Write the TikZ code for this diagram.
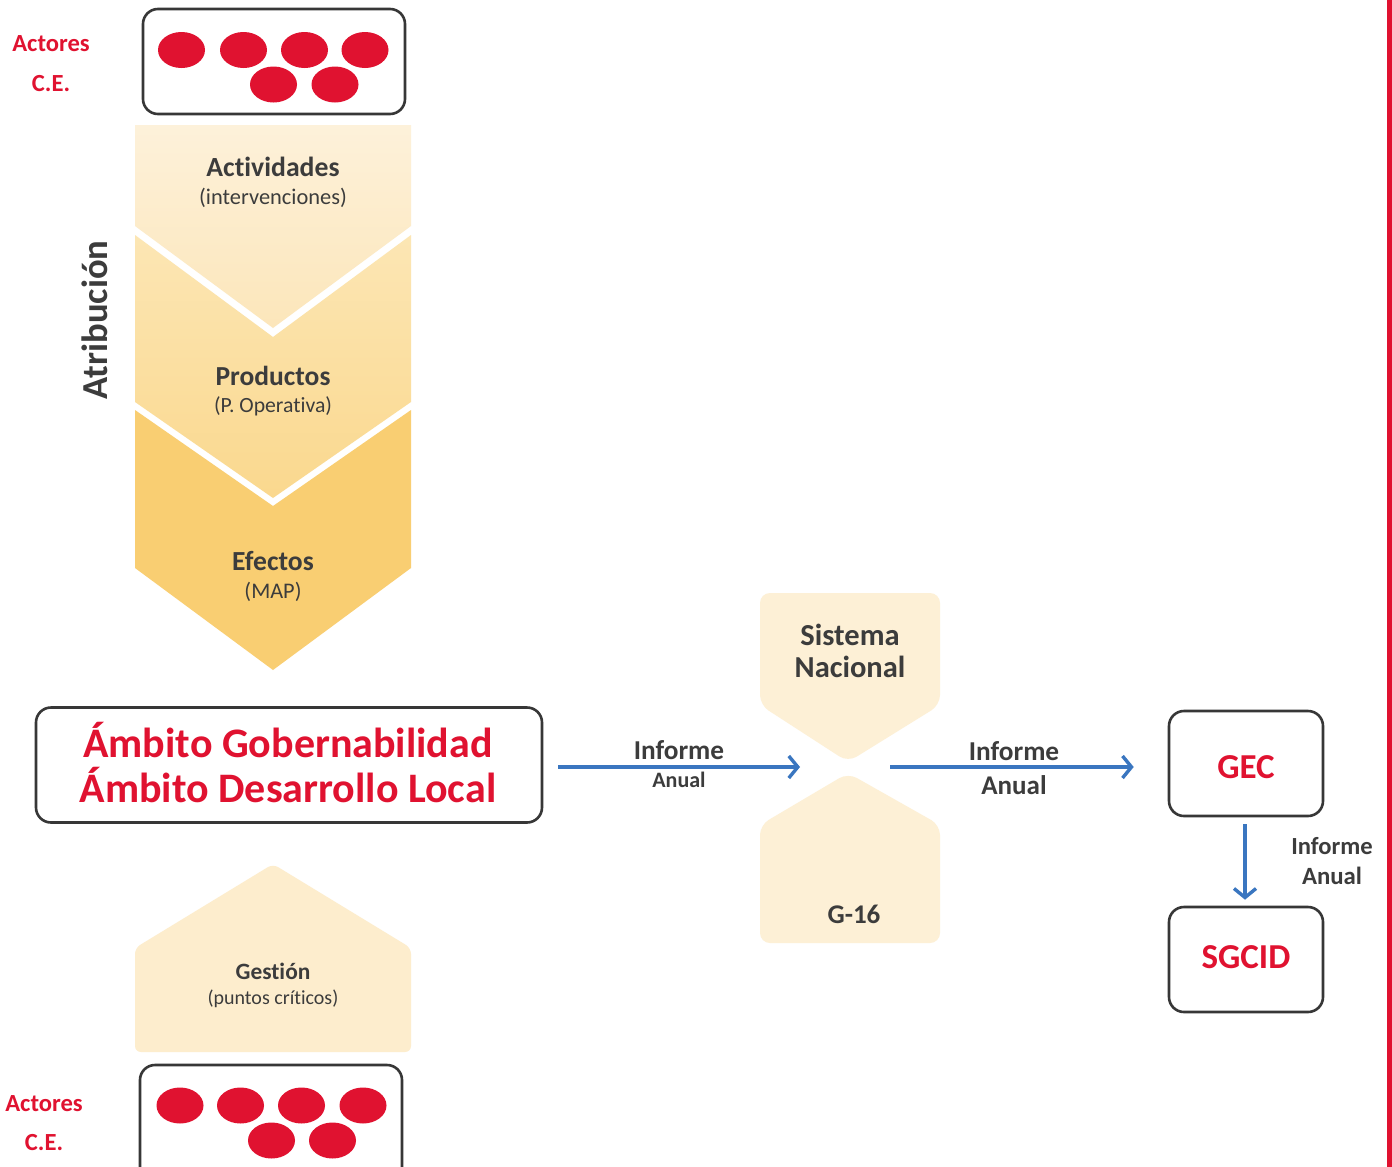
\documentclass[tikz,border=0pt]{standalone}
\usepackage{fontspec}
\setmainfont{Carlito}[Ligatures=NoCommon]
\usetikzlibrary{arrows.meta,shapes.geometric}
\definecolor{redc}{RGB}{224,18,48}
\definecolor{txtg}{RGB}{60,60,60}
\definecolor{boxg}{RGB}{55,55,55}
\definecolor{arrb}{RGB}{58,118,192}
\definecolor{chAtop}{RGB}{253,241,218}
\definecolor{chAbot}{RGB}{252,230,186}
\definecolor{chBtop}{RGB}{252,230,180}
\definecolor{chBbot}{RGB}{250,216,142}
\definecolor{chC}{RGB}{249,206,114}
\definecolor{gest}{RGB}{253,237,205}
\definecolor{hgc}{RGB}{253,240,214}
\tikzset{
  fbox/.style={draw=boxg, line width=2.6pt, rounded corners=15pt, inner sep=0pt},
  dot/.style={ellipse, fill=redc, minimum width=47pt, minimum height=36pt, inner sep=0pt},
  redtxt/.style={text=redc, inner sep=0pt, font=\bfseries\fontsize{#1}{#1}\selectfont},
  hd/.style={text=txtg, inner sep=0pt, font=\bfseries\fontsize{#1}{#1}\selectfont},
  sub/.style={text=txtg, inner sep=0pt, font=\fontsize{#1}{#1}\selectfont},
  flow/.style={draw=arrb, line width=3.4pt, -{Straight Barb[length=9pt,width=22pt]}},
}
\begin{document}
\begin{tikzpicture}[x=1pt,y=-1pt]
\useasboundingbox (0,0) rectangle (1392,1167);
\clip (0,0) rectangle (1392,1167);
\fill[white] (0,0) rectangle (1392,1167);
% right red bar
\fill[redc] (1387,0) rectangle (1392,1167);

% ---- top actors box
\node[fbox, minimum width=262pt, minimum height=105pt] (topbox) at (274,61.5) {};
\foreach \n/\x/\y in {a/181.5/50,b/243.5/50,c/304.5/50,d/365/50,e/273.5/84.5,f/335/84.5}
  \node[dot] (t\n) at (\x,\y) {};
\node[redtxt=24.6] (act1) at (51,44) {Actores};
\node[redtxt=24.6] (ce1) at (51,84) {C.E.};

% ---- chevrons
\shade[top color=chAtop, bottom color=chAbot] (135,125) -- (411,125) -- (411,226) -- (273,328) -- (135,226) -- cycle;
\shade[top color=chBtop, bottom color=chBbot] (135,235) -- (273,337) -- (411,235) -- (411,402) -- (273,498) -- (135,402) -- cycle;
\fill[chC] (135,410) -- (273,506) -- (411,410) -- (411,568) -- (273,670) -- (135,568) -- cycle;

\node[hd=27.7] (actv) at (273,167) {Actividades};
\node[sub=22.4] (actvs) at (273,198) {(intervenciones)};
\node[hd=27.5] (prod) at (273,376) {Productos};
\node[sub=21.7] (prods) at (273,406) {(P. Operativa)};
\node[hd=27.6] (efec) at (273,561) {Efectos};
\node[sub=22.3] (efecs) at (273,592) {(MAP)};
\node[hd=36.6, rotate=90] (atrib) at (95,320) {Atribución};

% ---- main box
\node[fbox, minimum width=506pt, minimum height=115pt] (amb) at (289,765) {};
\node[redtxt=42] (amb1) at (288,740) {Ámbito Gobernabilidad};
\node[redtxt=42] (amb2) at (288,785) {Ámbito Desarrollo Local};

% ---- hourglass
\fill[hgc, rounded corners=10pt] (760,593) -- (940,593) -- (940,705) -- (848,762) -- (760,705) -- cycle;
\fill[hgc, rounded corners=10pt] (848,773) -- (940,825) -- (940,943) -- (760,943) -- (760,825) -- cycle;
\coordinate (hg) at (848,767);
\node[hd=30.5] (sis) at (850,635) {Sistema};
\node[hd=30.5] (nac) at (850,667) {Nacional};
\node[hd=27] (g16) at (854,914) {G-16};

% ---- arrows
\draw[flow, shorten <=15pt, shorten >=48pt] (amb.east |- hg) -- (hg);
\node[hd=27.3] (inf1) at (679,750) {Informe};
\node[hd=22] (anu1) at (679,780) {Anual};

\node[fbox, minimum width=154pt, minimum height=105pt] (gec) at (1246,763.5) {};
\node[redtxt=35] (gect) at (1246,767) {GEC};
\node[fbox, minimum width=154pt, minimum height=105pt] (sgcid) at (1246,959.5) {};
\node[redtxt=35] (sgcidt) at (1246,957) {SGCID};

\draw[flow, shorten <=42pt, shorten >=34pt] (hg) -- (gec.west |- hg);
\node[hd=27.3] (inf2) at (1014,751) {Informe};
\node[hd=27] (anu2) at (1014,785) {Anual};

\draw[flow, shorten <=7pt, shorten >=6pt] ([xshift=-1pt]gec.south) -- ([xshift=-1pt]sgcid.north);
\node[hd=24.6] (inf3) at (1332,846) {Informe};
\node[hd=24.8] (anu3) at (1332,876) {Anual};

% ---- gestion
\fill[gest, rounded corners=6pt] (273,864) -- (411,948) -- (411,1052) -- (135,1052) -- (135,948) -- cycle;
\node[hd=23.4] (gesti) at (273,971) {Gestión};
\node[sub=20] (gests) at (273,999) {(puntos críticos)};

% ---- bottom actors box
\node[fbox, minimum width=262pt, minimum height=120pt] (botbox) at (271,1125) {};
\foreach \n/\x/\y in {a/180/1105.5,b/240.5/1105.5,c/301.5/1105.5,d/363/1105.5,e/271.5/1140.5,f/332.5/1140.5}
  \node[dot] (b\n) at (\x,\y) {};
\node[redtxt=24.6] (act2) at (44,1104) {Actores};
\node[redtxt=24.6] (ce2) at (44,1143) {C.E.};
\end{tikzpicture}
\end{document}
